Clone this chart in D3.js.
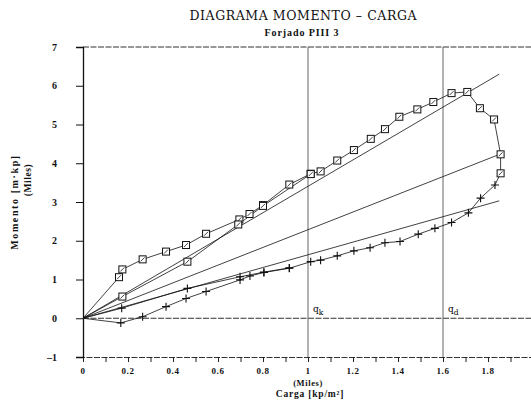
<!DOCTYPE html>
<html lang="es">
<head>
<meta charset="utf-8">
<title>Diagrama Momento - Carga</title>
<script src="https://cdn.jsdelivr.net/npm/d3@7"></script>
<style>
  body { margin: 0; background: #fff; }
  svg { display: block; }
  .lbl { font-family: "Liberation Serif", "DejaVu Serif", serif; font-weight: bold; fill: #111; }
  .data { fill: none; stroke: #111; stroke-width: 0.8; }
  .sec { fill: none; stroke: #111; stroke-width: 0.8; }
</style>
</head>
<body>
<script>

// Carga [kp/m2] (miles) , Momento [m.kp] (miles)
// upper branch, squares
var sqCurve = [
  [0, 0], [0.16, 1.06], [0.175, 1.26], [0.265, 1.52], [0.369, 1.72], [0.458, 1.89],
  [0.547, 2.18], [0.695, 2.55], [0.74, 2.69], [0.80, 2.92], [0.917, 3.45],
  [1.012, 3.73], [1.056, 3.79], [1.13, 4.07], [1.204, 4.34], [1.279, 4.63],
  [1.342, 4.88], [1.406, 5.20], [1.486, 5.39], [1.557, 5.58], [1.638, 5.81],
  [1.708, 5.84], [1.764, 5.42], [1.827, 5.13], [1.856, 4.23], [1.856, 3.74]
];
// reload branch, squares
var sqReload = [
  [0, 0], [0.175, 0.56], [0.464, 1.46], [0.69, 2.42], [0.80, 2.90], [1.012, 3.72]
];
// lower branch, crosses
var plCurve = [
  [1.856, 3.74], [1.831, 3.44], [1.767, 3.10], [1.713, 2.72], [1.638, 2.47],
  [1.564, 2.32], [1.49, 2.17], [1.409, 1.98], [1.342, 1.95], [1.276, 1.82],
  [1.204, 1.74], [1.13, 1.61], [1.056, 1.50], [1.012, 1.46], [0.917, 1.29],
  [0.804, 1.18], [0.742, 1.09], [0.698, 0.99], [0.547, 0.69], [0.458, 0.51],
  [0.369, 0.30], [0.265, 0.04], [0.168, -0.12], [0, 0]
];
// reload branch, crosses
var plReload = [
  [0, 0], [0.172, 0.26], [0.464, 0.77], [0.698, 1.07], [0.804, 1.19], [0.917, 1.30]
];
// secant lines from origin (end points)
var secants = [[1.85, 6.30], [1.86, 4.25], [1.85, 3.03]];

var xTicks = d3.range(0, 2.0001, 0.1);
var xLabels = [0, 0.2, 0.4, 0.6, 0.8, 1, 1.2, 1.4, 1.6, 1.8];
var yTicks = [-1, 0, 1, 2, 3, 4, 5, 6, 7];
var refLoads = [{v: 1, q: "q", s: "k"}, {v: 1.6, q: "q", s: "d"}];

var w = 531, h = 403;
var x = d3.scaleLinear().domain([0, 2]).range([83, 533]);
var y = d3.scaleLinear().domain([-1, 7]).range([357, 47]);

var svg = d3.select("body").append("svg").attr("width", w).attr("height", h);

// frame
svg.append("line").attr("x1", x(0)).attr("x2", w).attr("y1", y(7)).attr("y2", y(7))
  .attr("stroke", "#333").attr("stroke-width", 1).attr("stroke-dasharray", "6,1.5");
svg.append("line").attr("x1", x(0)).attr("x2", w).attr("y1", y(0)).attr("y2", y(0))
  .attr("stroke", "#333").attr("stroke-width", 1).attr("stroke-dasharray", "6,1.5");

// reference loads qk, qd
refLoads.forEach(function(r) {
  svg.append("line").attr("x1", x(r.v)).attr("x2", x(r.v)).attr("y1", y(7)).attr("y2", y(-1))
    .attr("stroke", "#666").attr("stroke-width", 1);
  var t = svg.append("text").attr("x", x(r.v) + 5).attr("y", y(0) - 6)
    .style("fill", "#000").style("font-family", "DejaVu Serif, serif").style("font-size", "9px");
  t.append("tspan").text(r.q);
  t.append("tspan").attr("dy", 3).style("font-size", "7.5px").text(r.s);
});

// axes
var xAxis = d3.axisBottom(x).tickValues(xTicks).tickSize(5).tickFormat("");
var gx = svg.append("g").attr("transform", "translate(0," + y(-1) + ")").call(xAxis);
gx.select(".domain").attr("stroke", "#333").attr("stroke-dasharray", "6,1.5");
gx.selectAll(".tick line").attr("stroke", "#222");

svg.append("g").selectAll("text").data(xLabels).join("text")
  .attr("class", "lbl").attr("x", function(d) { return x(d); }).attr("y", 374)
  .attr("text-anchor", "middle").style("font-size", "9px").style("letter-spacing", "0.6px")
  .text(function(d) { return d3.format("")(d); });

var yAxis = d3.axisLeft(y).tickValues(yTicks).tickSize(7).tickFormat("");
var gy = svg.append("g").attr("transform", "translate(" + x(0) + ",0)").call(yAxis);
gy.select(".domain").attr("stroke", "#111").attr("stroke-width", 1.3);
gy.selectAll(".tick line").attr("stroke", "#111");

svg.append("g").selectAll("text").data(yTicks).join("text")
  .attr("class", "lbl").attr("x", 57).attr("y", function(d) { return y(d) + 3.5; })
  .attr("text-anchor", "end").style("font-size", "10px")
  .text(function(d) { return d < 0 ? "\u2013" + (-d) : d; });

// titles
svg.append("text").attr("x", 303).attr("y", 20)
  .attr("text-anchor", "middle").style("font-family", "DejaVu Serif, serif").style("font-size", "12.5px")
  .style("fill", "#111").attr("textLength", 227).text("DIAGRAMA MOMENTO \u2013 CARGA");
svg.append("text").attr("class", "lbl").attr("x", 302).attr("y", 36)
  .attr("text-anchor", "middle").style("font-size", "10px").style("letter-spacing", "0.9px")
  .text("Forjado PIII 3");

svg.append("text").attr("class", "lbl").attr("x", 308).attr("y", 386)
  .attr("text-anchor", "middle").style("font-size", "8.5px").style("letter-spacing", "0.6px").text("(Miles)");
svg.append("text").attr("class", "lbl").attr("x", 310).attr("y", 397)
  .attr("text-anchor", "middle").style("font-size", "9.5px").style("letter-spacing", "0.8px").text("Carga [kp/m\u00b2]");

svg.append("text").attr("class", "lbl").attr("transform", "translate(18,202) rotate(-90)")
  .attr("text-anchor", "middle").style("font-size", "10px").style("letter-spacing", "1.6px")
  .text("Momento [m\u00b7kp]");
svg.append("text").attr("class", "lbl").attr("transform", "translate(31,180) rotate(-90)")
  .attr("text-anchor", "middle").style("font-size", "9.5px").style("letter-spacing", "0.6px").text("(Miles)");

// secant lines
svg.append("g").selectAll("line").data(secants).join("line").attr("class", "sec")
  .attr("x1", x(0)).attr("y1", y(0))
  .attr("x2", function(d) { return x(d[0]); }).attr("y2", function(d) { return y(d[1]); });

// curves
var line = d3.line().x(function(d) { return x(d[0]); }).y(function(d) { return y(d[1]); });
[sqCurve, sqReload, plCurve, plReload].forEach(function(s) {
  svg.append("path").datum(s).attr("class", "data").attr("d", line);
});

// markers
function squares(data) {
  var g = svg.append("g").selectAll("g").data(data.filter(function(d) { return d[0] > 0; })).join("g")
    .attr("transform", function(d) { return "translate(" + x(d[0]) + "," + y(d[1]) + ")"; });
  g.append("rect").attr("x", -3.5).attr("y", -3.5).attr("width", 7).attr("height", 7)
    .attr("fill", "#fff").attr("stroke", "#111").attr("stroke-width", 1);
  g.append("line").attr("x1", -2).attr("y1", 2).attr("x2", 2).attr("y2", -2)
    .attr("stroke", "#111").attr("stroke-width", 0.8);
}
function crosses(data) {
  var g = svg.append("g").selectAll("g").data(data.filter(function(d) { return d[0] > 0; })).join("g")
    .attr("transform", function(d) { return "translate(" + x(d[0]) + "," + y(d[1]) + ")"; });
  g.append("path").attr("d", "M-4,0H4M0,-4V4").attr("stroke", "#111").attr("stroke-width", 1.1);
}
squares(sqCurve);
squares(sqReload);
crosses(plCurve.slice(1));
crosses(plReload);

</script>
</body>
</html>
